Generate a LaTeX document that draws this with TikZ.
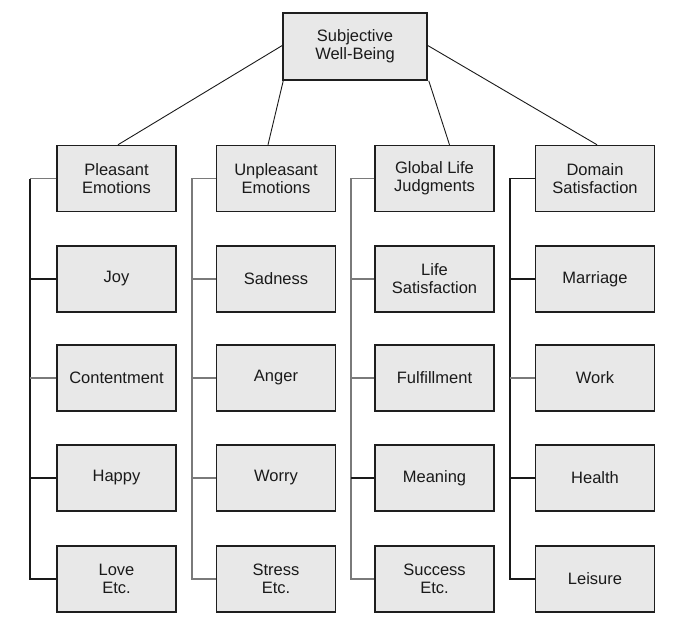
\documentclass[tikz,border=0pt]{standalone}
\usepackage{fontspec}
\setmainfont{Liberation Sans}
\definecolor{boxfill}{HTML}{E8E8E8}
\definecolor{boxline}{HTML}{1E1E1E}
\definecolor{darkline}{HTML}{1A1A1A}
\definecolor{greyline}{HTML}{7A7A7A}
\definecolor{textcol}{HTML}{1A1A1A}
\begin{document}
\begin{tikzpicture}[x=1pt,y=-1pt,
  box/.style={draw=boxline,fill=boxfill,line width=1.5pt,minimum width=119pt,minimum height=66pt,inner sep=0pt,align=center,text=textcol,font=\fontsize{16.5}{18}\selectfont},
  topline/.style={draw=darkline,line width=0.9pt},
  darktree/.style={draw=darkline,line width=1.3pt},
  greytree/.style={draw=greyline,line width=1.3pt}]
\useasboundingbox (0,0) rectangle (684,625);
% top
\node[box,minimum width=144pt,minimum height=67pt] (top) at (355,46.5) {Subjective\\Well-Being};
% column 1
\node[box] (p1) at (116.5,178.5) {Pleasant\\Emotions};
\node[box] (p2) at (116.5,279) {Joy};
\node[box] (p3) at (116.5,378) {Contentment};
\node[box] (p4) at (116.5,478) {Happy};
\node[box] (p5) at (116.5,579) {Love\\Etc.};
% column 2
\node[box] (u1) at (276,178.5) {Unpleasant\\Emotions};
\node[box] (u2) at (276,279) {Sadness};
\node[box] (u3) at (276,378) {Anger};
\node[box] (u4) at (276,478) {Worry};
\node[box] (u5) at (276,579) {Stress\\Etc.};
% column 3
\node[box] (g1) at (434.5,178.5) {Global Life\\Judgments};
\node[box] (g2) at (434.5,279) {Life\\Satisfaction};
\node[box] (g3) at (434.5,378) {Fulfillment};
\node[box] (g4) at (434.5,478) {Meaning};
\node[box] (g5) at (434.5,579) {Success\\Etc.};
% column 4
\node[box] (d1) at (595,178.5) {Domain\\Satisfaction};
\node[box] (d2) at (595,279) {Marriage};
\node[box] (d3) at (595,378) {Work};
\node[box] (d4) at (595,478) {Health};
\node[box] (d5) at (595,579) {Leisure};
% connectors from top
\draw[topline] ([yshift=1pt]top.west) -- ([xshift=1.5pt]p1.north);
\draw[topline] ([xshift=1pt]top.south west) -- ([xshift=-8pt]u1.north);
\draw[topline] ([xshift=1pt]top.south east) -- ([xshift=15pt]g1.north);
\draw[topline] ([yshift=1pt]top.east) -- ([xshift=2pt]d1.north);
% spine coordinates
\coordinate (sp) at (30,0);
\coordinate (su) at (192,0);
\coordinate (sg) at (351,0);
\coordinate (sd) at (510,0);
% column 1 tree
\draw[greytree] (p1.west) -- (sp |- p1.west);
\draw[darktree] (sp |- p1.west) -- (sp |- p5.west) -- (p5.west);
\draw[darktree] (p2.west) -- (sp |- p2.west);
\draw[greytree] (p3.west) -- (sp |- p3.west);
\draw[darktree] (p4.west) -- (sp |- p4.west);
% column 2 tree
\draw[greytree] (u1.west) -- (su |- u1.west) -- (su |- u5.west) -- (u5.west);
\draw[greytree] (u2.west) -- (su |- u2.west);
\draw[greytree] (u3.west) -- (su |- u3.west);
\draw[greytree] (u4.west) -- (su |- u4.west);
% column 3 tree
\draw[greytree] (g1.west) -- (sg |- g1.west) -- (sg |- g5.west) -- (g5.west);
\draw[greytree] (g2.west) -- (sg |- g2.west);
\draw[greytree] (g3.west) -- (sg |- g3.west);
\draw[darktree] (g4.west) -- (sg |- g4.west);
% column 4 tree
\draw[darktree] (d1.west) -- (sd |- d1.west) -- (sd |- d5.west) -- (d5.west);
\draw[darktree] (d2.west) -- (sd |- d2.west);
\draw[greytree] (d3.west) -- (sd |- d3.west);
\draw[darktree] (d4.west) -- (sd |- d4.west);
\end{tikzpicture}
\end{document}
